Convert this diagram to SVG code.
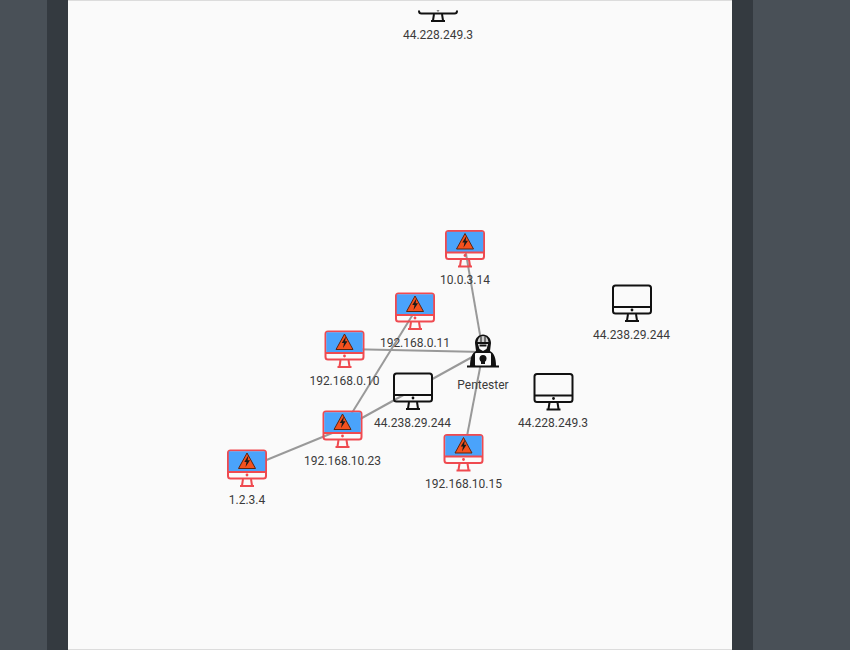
<svg xmlns="http://www.w3.org/2000/svg" width="850" height="650" viewBox="0 0 850 650">
<style>
text{font-family:Roboto,"Liberation Sans",sans-serif;font-size:12px;fill:#3a3a3a;text-anchor:middle}
.edge{stroke:#999;stroke-width:2;fill:none}
.r{stroke:#ef4a50;stroke-width:2;fill:none}
.k{stroke:#111;stroke-width:2;fill:none}
</style>
<defs>
<g id="pc">
<rect x="1" y="1" width="38" height="22" rx="2.5" fill="#fafafa" stroke="none"/>
<rect x="1" y="1" width="38" height="28" rx="2.5"/>
<path d="M1 22.5H39M16 29.5L15 36M24 29.500L25 36M13 36.500H27"/>
<circle cx="20" cy="25.500" r="1.400" fill="#111" stroke="none"/>
</g>
<g id="alert">
<rect x="1" y="1" width="38" height="28" rx="2.500"/>
<rect x="1.800" y="1.800" width="36.400" height="20.200" fill="#4aa3fb" stroke="none"/>
<path d="M1 22.500H39M16 29.500L15 36M24 29.500L25 36M13 36.500H27"/>
<circle cx="20" cy="25.500" r="1.400" fill="#ef4a50" stroke="none"/>
<path d="M20 3.500L28.500 19H11.500Z" fill="#f4511e" stroke="#5a2410" stroke-width="1" stroke-linejoin="round"/>
<path d="M21.500 5.800L17.300 12.500H19.500L18.500 17.500L23 10.800H20.600Z" fill="#1a1a1a" stroke="none"/>
</g>
<clipPath id="topclip"><rect x="410" y="10.500" width="56" height="14"/></clipPath>
</defs>
<rect width="850" height="650" fill="#495057"/>
<rect x="47" width="21" height="650" fill="#343a40"/>
<rect x="732" width="21" height="650" fill="#343a40"/>
<rect x="68" width="664" height="650" fill="#fafafa"/>
<path d="M68 .5H732M68 649.500H732" stroke="#dcdcdc" fill="none"/>
<g id="connectors">
<path class="edge" d="M465 248L483 352"/>
<path class="edge" d="M415 311L342 429"/>
<path class="edge" d="M345 349L483 352"/>
<path class="edge" d="M247 468L342 429"/>
<path class="edge" d="M342 429L483 351"/>
<path class="edge" d="M464 452L483 352"/>
</g>
<g id="n-top"><g clip-path="url(#topclip)"><use href="#pc" class="k" x="418" y="-15.500"/></g><text x="438" y="39">44.228.249.3</text></g>
<g id="n-far"><use href="#pc" class="k" x="612" y="284.500"/><text x="631.500" y="339">44.238.29.244</text></g>
<g id="n-mid"><use href="#pc" class="k" x="393" y="372.500"/><text x="412.500" y="427">44.238.29.244</text></g>
<g id="n-right"><use href="#pc" class="k" x="533.500" y="373"/><text x="553" y="427">44.228.249.3</text></g>
<g id="n-10-0-3-14"><use href="#alert" class="r" x="445" y="230"/><text x="465" y="284">10.0.3.14</text></g>
<g id="n-0-11"><use href="#alert" class="r" x="395" y="292.500"/><text x="415" y="347">192.168.0.11</text></g>
<g id="n-0-10"><use href="#alert" class="r" x="324.500" y="330.500"/><text x="344.500" y="385">192.168.0.10</text></g>
<g id="n-10-23"><use href="#alert" class="r" x="322.500" y="410.500"/><text x="342.500" y="465">192.168.10.23</text></g>
<g id="n-1-2-3-4"><use href="#alert" class="r" x="227" y="449.500"/><text x="247" y="504">1.2.3.4</text></g>
<g id="n-10-15"><use href="#alert" class="r" x="443.500" y="434"/><text x="463.500" y="488">192.168.10.15</text></g>
<g id="pentester">
<path d="M476 351L475 343C475 338 479 334.500 483 334.500C487 334.500 491 338 491 343L490 351C494 353 496 358 496 366H470C470 358 472 353 476 351Z" fill="#111"/>
<path d="M477.500 342C478 338 480 336 483 336C486 336 488 338 488.500 342Z" fill="#cfcfcf"/>
<path d="M481 336.500V342M485 336.500V342" stroke="#111" stroke-width="1"/>
<path d="M478 344H488L486.500 349L483 351L479.500 349Z" fill="#fafafa"/>
<path d="M479.500 344.500H486.500V346.500H479.500Z" fill="#111"/>
<rect x="475" y="353" width="16" height="13" rx="1" fill="#fafafa"/>
<circle cx="483" cy="358.500" r="3.500" fill="#111"/>
<rect x="481" y="361" width="4" height="3" fill="#111"/>
<path d="M467 366.500H499" stroke="#111" stroke-width="2"/>
<text x="483" y="389">Pentester</text>
</g>
</svg>
